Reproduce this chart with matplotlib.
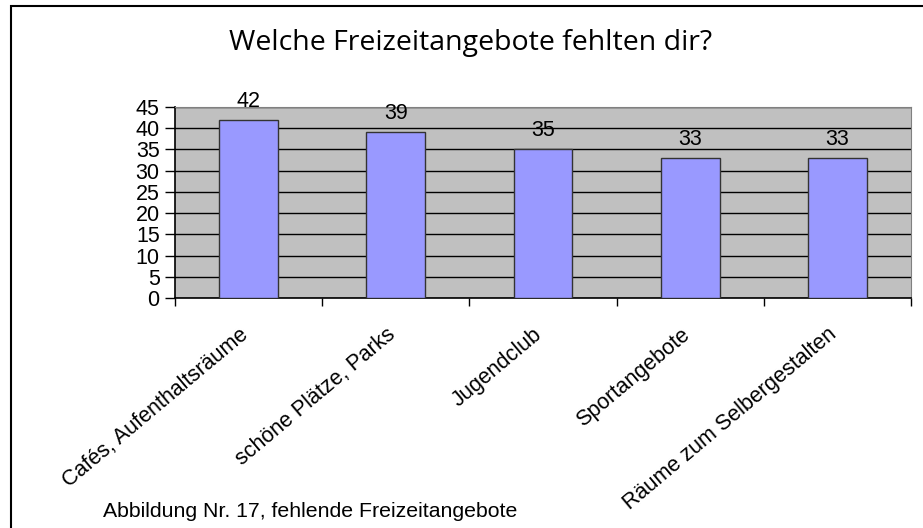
import matplotlib
matplotlib.use("Agg")
import matplotlib.pyplot as plt
from matplotlib.patches import Rectangle

categories = ["Cafés, Aufenthaltsräume", "schöne Plätze, Parks", "Jugendclub",
              "Sportangebote", "Räume zum Selbergestalten"]
values = [42, 39, 35, 33, 33]
yticks = [0, 5, 10, 15, 20, 25, 30, 35, 40, 45]
title = "Welche Freizeitangebote fehlten dir?"
caption = "Abbildung Nr. 17, fehlende Freizeitangebote"

W, H = 923, 528
FS = 15.5
fig = plt.figure(figsize=(W / 100, H / 100), dpi=100)
fig.patch.set_facecolor("white")

# outer border (extends beyond the right and bottom edges)
fig.add_artist(Rectangle((11 / W, -0.1), 1.2, 1 - 6 / H + 0.1, transform=fig.transFigure,
                         fill=False, edgecolor="black", linewidth=1.5))

left, right = 175 / W, 911 / W
bottom, top = 1 - 298 / H, 1 - 107 / H
ax = fig.add_axes([left, bottom, right - left, top - bottom])
ax.set_facecolor("#C0C0C0")

x = list(range(len(categories)))
ax.bar(x, values, width=0.4, color="#9999FF", edgecolor="#333333", linewidth=1.0, zorder=3)
ax.set_xlim(-0.5, len(categories) - 0.5)
ax.set_ylim(0, 45)
ax.set_yticks(yticks)
ax.set_yticklabels([str(v) for v in yticks], fontsize=FS, family="Liberation Sans")
ax.yaxis.grid(True, color="black", linewidth=1.0, zorder=1)
ax.set_axisbelow(True)
ax.tick_params(axis="y", direction="out", length=7, width=1, pad=4)

ax.set_xticks([i - 0.5 for i in range(len(categories) + 1)])
ax.set_xticklabels([])
ax.tick_params(axis="x", direction="out", length=6, width=1)
for i, c in enumerate(categories):
    ax.annotate(c, xy=(i, 0), xycoords=("data", "axes fraction"),
                xytext=(-10, -26), textcoords="offset pixels",
                rotation=40, ha="right", va="top", rotation_mode="anchor",
                fontsize=FS, family="Liberation Sans")

for sp in ["top", "right"]:
    ax.spines[sp].set_color("#808080")
for sp in ["left", "bottom"]:
    ax.spines[sp].set_color("black")
    ax.spines[sp].set_linewidth(1.2)

for i, v in enumerate(values):
    ax.annotate(str(v), xy=(i, v), xytext=(0, 13), textcoords="offset pixels",
                ha="center", va="baseline", fontsize=FS, family="Liberation Sans")

fig.text(471 / W, 1 - 50 / H, title, ha="center", va="baseline",
         fontsize=20.5, family="Open Sans")
fig.text(103 / W, 1 - 517 / H, caption, ha="left", va="baseline",
         fontsize=15.3, family="Liberation Sans")

fig.savefig("out.png", dpi=100)
